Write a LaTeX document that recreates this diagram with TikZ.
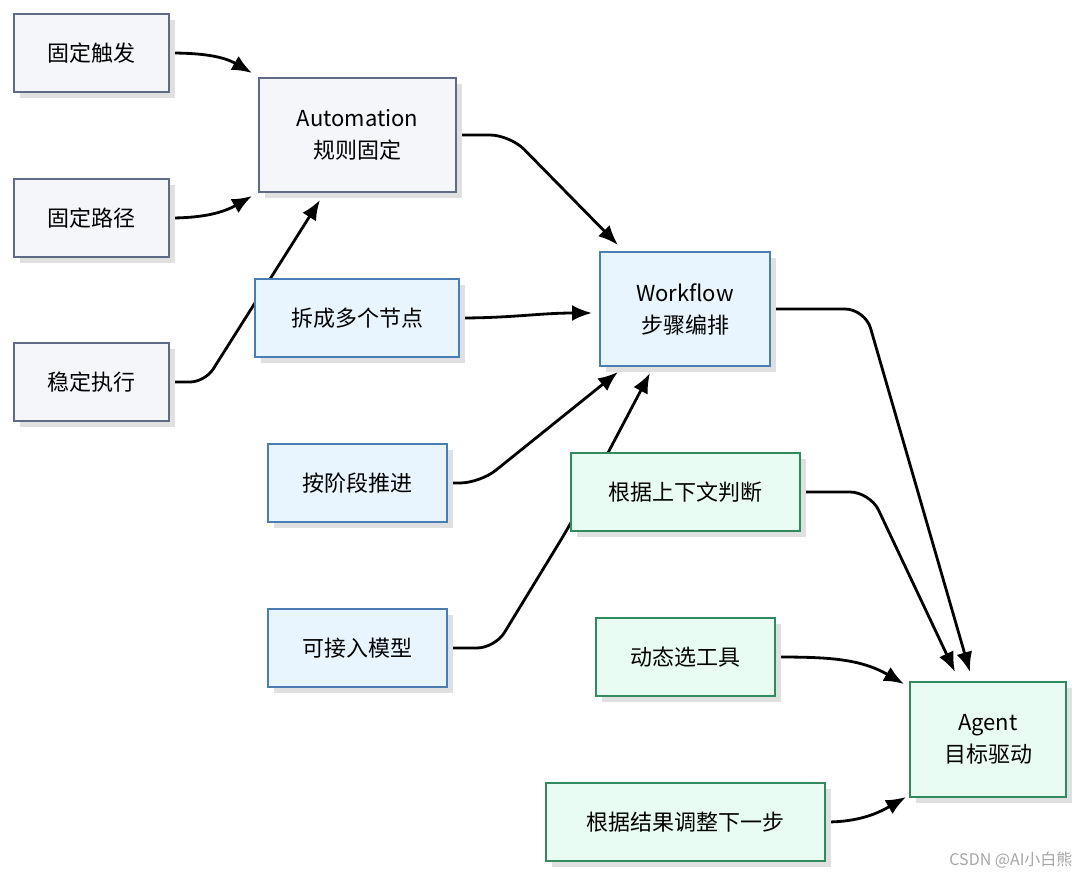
\documentclass[tikz,border=0pt]{standalone}
\usepackage{fontspec}
\setmainfont{Noto Sans CJK SC}
\usetikzlibrary{arrows.meta}
\definecolor{gfill}{HTML}{F5F6FA}\definecolor{gdraw}{HTML}{5F6B85}
\definecolor{bfill}{HTML}{E9F5FE}\definecolor{bdraw}{HTML}{4A7DB3}
\definecolor{nfill}{HTML}{E8FCF3}\definecolor{ndraw}{HTML}{2F8A5E}
\pgfdeclarelayer{bg}\pgfsetlayers{bg,main}
\begin{document}
\begin{tikzpicture}[x=1pt,y=-1pt,
 box/.style={draw,line width=2pt,inner sep=0pt,font=\fontsize{22}{32}\selectfont,align=center},
 gb/.style={box,fill=gfill,draw=gdraw},
 bb/.style={box,fill=bfill,draw=bdraw},
 nb/.style={box,fill=nfill,draw=ndraw},
 sh/.style={fill=black!12},
 ar/.style={-{Latex[length=20pt,width=16pt]},line width=2.8pt}]
\useasboundingbox (0,0) rectangle (1080,875);
\newcommand\mybox[7]{%
 \fill[sh] (#3+6,#4+6) rectangle (#5+6,#6+6);
 \node[#1,minimum width=#5-#3,minimum height=#6-#4] (#2) at ({(#3+#5)/2},{(#4+#6)/2}) {#7};}
\mybox{gb}{a}{14}{14}{169}{92}{固定触发}
\mybox{gb}{b}{14}{179}{169}{257}{固定路径}
\mybox{gb}{c}{14}{343}{169}{421}{稳定执行}
\mybox{gb}{auto}{259}{78}{456}{192}{Automation\\规则固定}
\mybox{bb}{d}{255}{279}{459}{357}{拆成多个节点}
\mybox{bb}{wf}{600}{252}{770}{366}{Workflow\\步骤编排}
\mybox{bb}{e}{268}{444}{447}{522}{按阶段推进}
\mybox{nb}{f}{571}{453}{800}{531}{根据上下文判断}
\mybox{bb}{g}{268}{609}{447}{687}{可接入模型}
\mybox{nb}{h}{596}{618}{775}{696}{动态选工具}
\mybox{nb}{ag}{910}{682}{1066}{797}{Agent\\目标驱动}
\mybox{nb}{k}{546}{783}{825}{861}{根据结果调整下一步}
\begin{pgfonlayer}{bg}
\draw[ar] (a.east) to[out=0,in=150] (252,73);
\draw[ar] (b.east) to[out=0,in=-150] (252,196);
\draw[ar,rounded corners=15pt] (c.east) -- (205,382) -- (320,200);
\draw[ar,rounded corners=20pt] (auto.east) -- (510,135) -- (618,245);
\draw[ar] (d.east) -- (460,318) to[out=0,in=180] (592,313);
\draw[ar,rounded corners=20pt] (e.east) -- (480,483) -- (618,372);
\draw[ar,rounded corners=18pt] (g.east) -- (495,648) -- (570,525) -- (650,373);
\draw[ar,rounded corners=20pt] (wf.east) -- (865,309) -- (970,672);
\draw[ar,rounded corners=20pt] (f.east) -- (870,492) -- (955,672);
\draw[ar] (h.east) to[out=0,in=150] (904,684);
\draw[ar] (k.east) to[out=0,in=-150] (906,797);
\end{pgfonlayer}
\node[anchor=south east,text=black!35,font=\fontsize{16}{18}\selectfont] at (1076,872) {CSDN @AI小白熊};
\end{tikzpicture}
\end{document}
